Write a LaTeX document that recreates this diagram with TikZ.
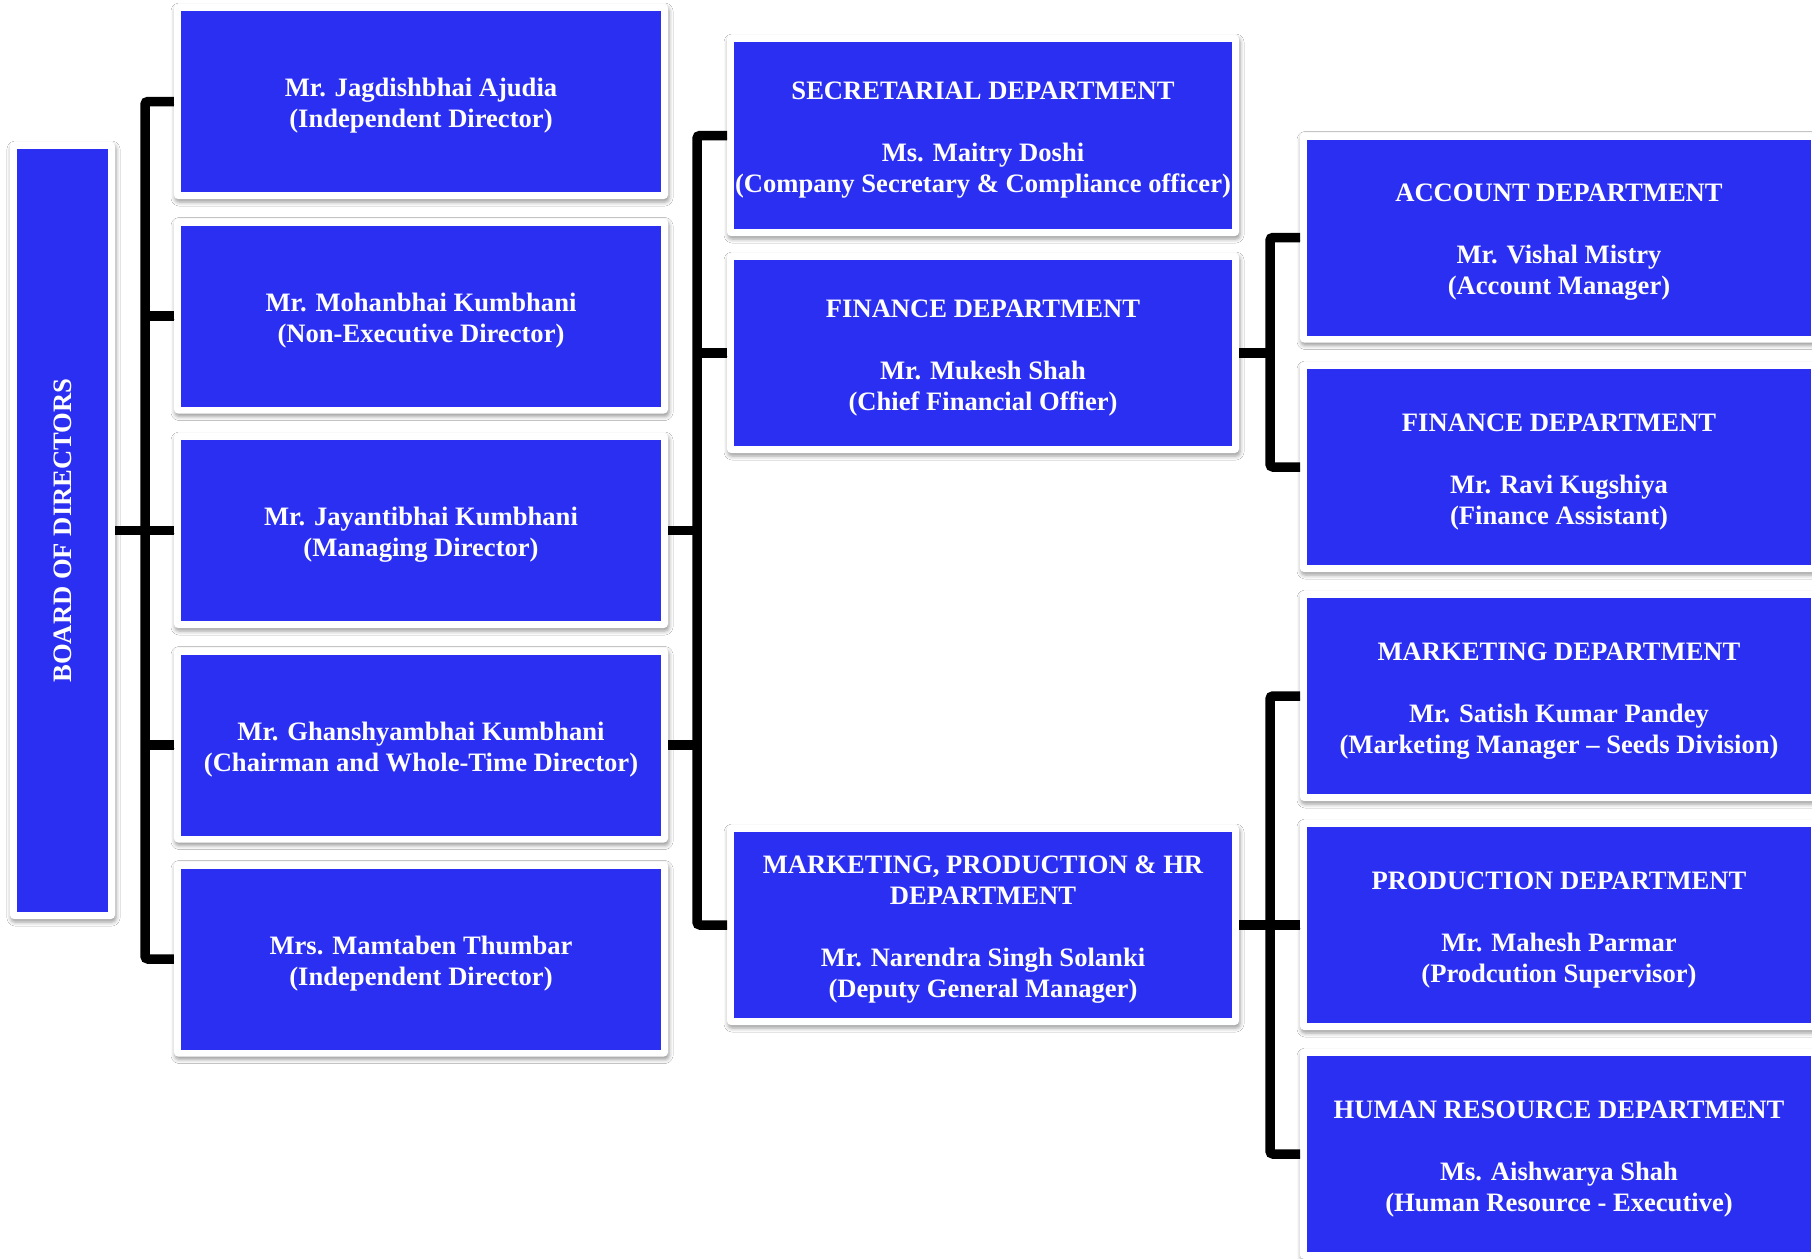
\documentclass[tikz,border=0pt]{standalone}
\usepackage{fontspec}
\setmainfont{Liberation Serif}
\usetikzlibrary{shadows.blur}
\definecolor{bblue}{RGB}{43,47,241}
\newcommand{\toppad}{\rule{0pt}{27bp}}
\begin{document}
\begin{tikzpicture}[x=1bp,y=-1bp,
  frame/.style={rectangle, fill=white, rounded corners=4bp, inner sep=0pt, outer sep=0pt,
    blur shadow={shadow xshift=1bp, shadow yshift=-3bp, shadow blur radius=4bp, shadow opacity=40},
    text=white, font=\fontsize{26.6bp}{31bp}\selectfont\bfseries, align=center,
    path picture={\fill[bblue, sharp corners] ([shift={(7bp,-7bp)}]path picture bounding box.north west) rectangle ([shift={(-7bp,7bp)}]path picture bounding box.south east);}},
  lbox/.style={frame, minimum width=494bp, minimum height=195bp},
  mbox/.style={frame, minimum width=512bp, minimum height=200bp},
  rbox/.style={frame, minimum width=518bp, minimum height=210bp},
  conn/.style={draw=black, line width=9.5bp, rounded corners=3bp,
    preaction={draw=black, opacity=0.22, transform canvas={shift={(1bp,-3bp)}}}}
]
\useasboundingbox (0,0) rectangle (1812,1258);
\fill[white] (0,0) rectangle (1812,1258);

\coordinate (lv) at (145,0);
\coordinate (mv) at (697,0);
\coordinate (rv) at (1270,0);

\node[frame, minimum width=105bp, minimum height=777bp] (board) at (62.5,530.5) {\rotatebox{90}{BOARD OF DIRECTORS}};

\node[lbox] (l1) at (421,101.5) {\toppad Mr. Jagdishbhai Ajudia\\(Independent Director)};
\node[lbox] (l2) at (421,316) {\toppad Mr. Mohanbhai Kumbhani\\(Non-Executive Director)};
\node[lbox] (l3) at (421,530.5) {\toppad Mr. Jayantibhai Kumbhani\\(Managing Director)};
\node[lbox] (l4) at (421,745) {\toppad Mr. Ghanshyambhai Kumbhani\\(Chairman and Whole-Time Director)};
\node[lbox] (l5) at (421,959) {\toppad Mrs. Mamtaben Thumbar\\(Independent Director)};

\node[mbox, minimum height=201bp] (m1) at (983,135.5) {\toppad SECRETARIAL DEPARTMENT\\[31bp]Ms. Maitry Doshi\\(Company Secretary \& Compliance officer)};
\node[mbox] (m2) at (983,353) {\toppad FINANCE DEPARTMENT\\[31bp]Mr. Mukesh Shah\\(Chief Financial Offier)};
\node[mbox] (m3) at (983,925) {\toppad MARKETING, PRODUCTION \& HR\\DEPARTMENT\\[31bp]Mr. Narendra Singh Solanki\\(Deputy General Manager)};

\node[rbox] (r1) at (1559,237.5) {\toppad ACCOUNT DEPARTMENT\\[31bp]Mr. Vishal Mistry\\(Account Manager)};
\node[rbox] (r2) at (1559,467) {\toppad FINANCE DEPARTMENT\\[31bp]Mr. Ravi Kugshiya\\(Finance Assistant)};
\node[rbox] (r3) at (1559,696) {\toppad MARKETING DEPARTMENT\\[31bp]Mr. Satish Kumar Pandey\\(Marketing Manager -- Seeds Division)};
\node[rbox] (r4) at (1559,925) {\toppad PRODUCTION DEPARTMENT\\[31bp]Mr. Mahesh Parmar\\(Prodcution Supervisor)};
\node[rbox] (r5) at (1559,1154) {\toppad HUMAN RESOURCE DEPARTMENT\\[31bp]Ms. Aishwarya Shah\\(Human Resource - Executive)};

% connectors
\draw[conn] (board.east) -- (board.east -| lv);
\draw[conn] (l1.west) -- (l1.west -| lv) -- (l5.west -| lv) -- (l5.west);
\foreach \n in {l2,l3,l4} \draw[conn] (\n.west) -- (\n.west -| lv);
\draw[conn] (l3.east) -- (l3.east -| mv);
\draw[conn] (l4.east) -- (l4.east -| mv);
\draw[conn] (m1.west) -- (m1.west -| mv) -- (m3.west -| mv) -- (m3.west);
\draw[conn] (m2.west) -- (m2.west -| mv);
\draw[conn] (m2.east) -- (m2.east -| rv);
\draw[conn] (r1.west) -- (r1.west -| rv) -- (r2.west -| rv) -- (r2.west);
\draw[conn] (m3.east) -- (m3.east -| rv);
\draw[conn] (r3.west) -- (r3.west -| rv) -- (r5.west -| rv) -- (r5.west);
\draw[conn] (r4.west) -- (r4.west -| rv);
\end{tikzpicture}
\end{document}
